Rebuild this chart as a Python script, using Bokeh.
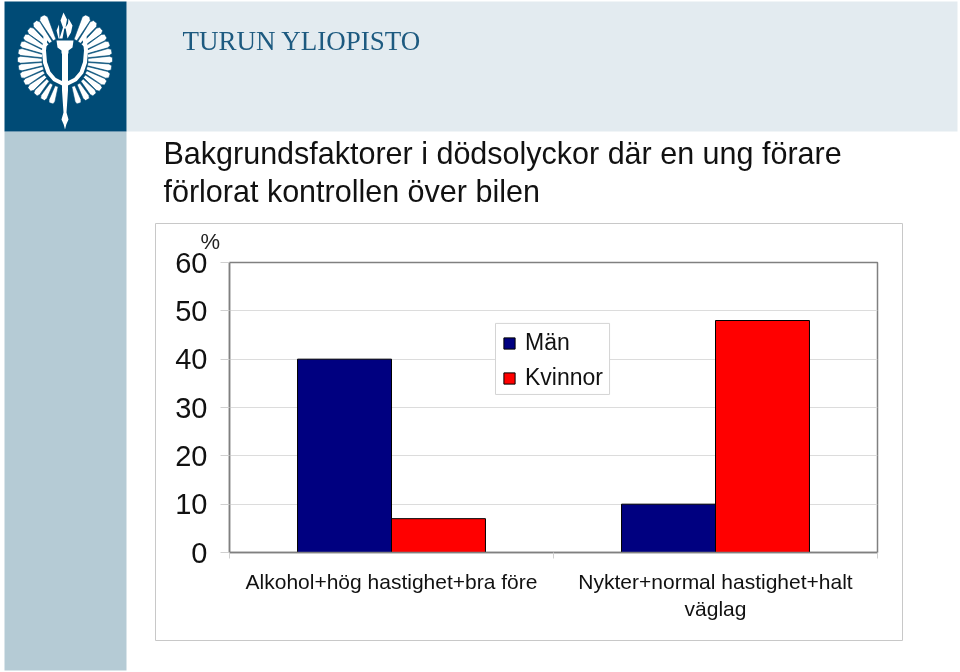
from bokeh.embed import file_html
from bokeh.resources import INLINE
from bokeh.plotting import figure
from bokeh.models import BoxAnnotation, ColumnDataSource, FixedTicker, Legend, LegendItem, Range1d
from bokeh.core.properties import value
import math

categories = ["Alkohol+hög hastighet+bra före", "Nykter+normal hastighet+halt\nväglag"]
man = [40, 10]
kvinnor = [7, 48]
series_names = ["Män", "Kvinnor"]
y_ticks = [0, 10, 20, 30, 40, 50, 60]
title_lines = ["Bakgrundsfaktorer i dödsolyckor där en ung förare", "förlorat kontrollen över bilen"]
brand = "TURUN YLIOPISTO"
unit = "%"

NAVY, RED = "#000080", "#ff0000"
FONT = "Liberation Sans"
LOGO, BAND, SIDE = "#004b76", "#e3ebf0", "#b5cbd5"
FIXED = {"position": "fixed", "left": "0px", "top": "0px"}

# ---------- backdrop: page furniture, drawn in pixel space ----------
bg = figure(width=960, height=672, output_backend="svg", toolbar_location=None,
            x_range=Range1d(0, 960), y_range=Range1d(672, 0), min_border=0,
            x_axis_location=None, y_axis_location=None,
            outline_line_color=None, background_fill_color="white", border_fill_color="white")
bg.grid.visible = False
bg.styles = FIXED

bg.quad(left=[126, 4, 4], right=[957, 126, 126], top=[1, 131, 1], bottom=[131, 670, 131],
        fill_color=[BAND, SIDE, LOGO], line_color=None)
bg.quad(left=[155], right=[902], top=[223], bottom=[640], fill_color="white", line_color="#c8c8c8", line_width=1)

# logo
CX, CY = 64.5, 60
angles = [63, 52, 41, 31, 21, 11, 1, -9, -19, -29, -39, -49, -60, -72]
outer = [50, 49, 48, 47.5, 47.5, 47.5, 47.5, 47, 47, 46.5, 46, 45, 45, 45]
inner = [23, 23, 23, 23, 23, 23, 23, 23, 23, 24, 25, 26, 27, 27]
widths = [4.4, 4.0, 3.8, 3.6, 3.5, 3.5, 3.5, 3.5, 3.5, 3.5, 3.5, 3.3, 3.3, 3.1]
fx, fy = [], []
for a, ro, ri, w1 in zip(angles, outer, inner, widths):
    for s in (-1, 1):
        t = math.radians(a)
        ux, uy = s * math.cos(t), -math.sin(t)
        vx, vy = -uy, ux
        w0 = 1.6
        fx.append([CX + ux * ri + vx * w0, CX + ux * (ro - 3) + vx * w1, CX + ux * ro + vx * 2.2, CX + ux * ro - vx * 2.2,
                   CX + ux * (ro - 3) - vx * w1, CX + ux * ri - vx * w0])
        fy.append([CY + uy * ri + vy * w0, CY + uy * (ro - 3) + vy * w1, CY + uy * ro + vy * 2.2, CY + uy * ro - vy * 2.2,
                   CY + uy * (ro - 3) - vy * w1, CY + uy * ri - vy * w0])
bg.patches(fx, fy, fill_color="white", line_color=LOGO, line_width=0.6)
arc_x = [45, 43.5, 44.5, 48, 54, 62]
arc_y = [36, 50, 62, 72, 79, 83]
bg.multi_line([arc_x, [129 - v for v in arc_x]], [arc_y, arc_y], line_color="white", line_width=4, line_cap="round")
# trident shaft, torch, flame
bg.patches(
    [[61.5, 67.5, 67.5, 66, 68, 65.8, 64.5, 63.2, 61, 63, 61.5],
     [56, 73, 72, 68, 68, 61, 61, 57],
     [59, 62.5, 60, 63, 66.5, 65, 67.5, 68, 72, 70.5, 67, 65.2, 63.8, 62, 58, 56, 58.5]],
    [[50, 50, 90, 112, 119, 124, 129, 124, 119, 112, 90],
     [40, 40, 47, 50, 53, 53, 50, 47],
     [38, 27, 20, 12, 19, 27, 23, 18, 25, 32, 38, 28, 28, 38, 38, 30, 24]],
    fill_color="white", line_color=None)

for lab, x, y, size, col, font in [
    (brand, 182, 40, "27px", "#1d5a80", "Liberation Serif"),
    (title_lines[0], 163, 152.5, "30.5px", "#111111", FONT),
    (title_lines[1], 163, 190, "30.5px", "#111111", FONT),
    (unit, 200, 241, "22px", "#222222", FONT),
]:
    bg.text(x=[x], y=[y], text=[lab], text_font=value(font), text_font_size=value(size), text_color=col,
            text_baseline="middle", text_align="left")

# ---------- the chart itself, transparent, on top ----------
p = figure(width=960, height=672, output_backend="svg", toolbar_location=None,
           x_range=Range1d(0, len(categories)), y_range=Range1d(0, 60),
           min_border_left=229, min_border_right=83, min_border_top=262, min_border_bottom=120,
           background_fill_color=None, border_fill_color=None, outline_line_color="#808080",
           outline_line_width=1.5)
p.styles = FIXED

pos = list(range(len(categories)))
src = ColumnDataSource(dict(x1=[i + 0.355 for i in pos], x2=[i + 0.645 for i in pos], m=man, k=kvinnor))
r1 = p.vbar(x="x1", top="m", width=0.29, source=src, fill_color=NAVY, line_color="black", line_width=1)
r2 = p.vbar(x="x2", top="k", width=0.29, source=src, fill_color=RED, line_color="black", line_width=1)

p.xaxis.ticker = FixedTicker(ticks=[i + 0.5 for i in pos], minor_ticks=pos + [len(pos)])
p.xaxis.major_label_overrides = {i + 0.5: c for i, c in zip(pos, categories)}
p.xaxis.major_tick_line_color = None
p.xaxis.major_tick_in = 0
p.xaxis.major_tick_out = 8
p.xaxis.minor_tick_in = 0
p.xaxis.minor_tick_out = 6
p.xaxis.minor_tick_line_color = "#d0d0d0"
p.xaxis.axis_line_color = "#808080"
p.xaxis.axis_line_width = 1.5
p.xaxis.major_label_standoff = 9
p.xaxis.major_label_text_font = FONT
p.xaxis.major_label_text_font_size = "21px"
p.xaxis.major_label_text_color = "#111111"
p.xaxis.major_label_text_line_height = 1.2

p.yaxis.ticker = FixedTicker(ticks=y_ticks)
p.yaxis.minor_tick_line_color = None
p.yaxis.major_tick_in = 0
p.yaxis.major_tick_out = 9
p.yaxis.major_tick_line_color = "#d0d0d0"
p.yaxis.axis_line_color = "#808080"
p.yaxis.axis_line_width = 1.5
p.yaxis.major_label_standoff = 13
p.yaxis.major_label_text_font = FONT
p.yaxis.major_label_text_font_size = "29px"
p.yaxis.major_label_text_color = "#111111"

p.xgrid.visible = False
p.ygrid.ticker = FixedTicker(ticks=y_ticks)
p.ygrid.grid_line_color = "#dcdcdc"
p.ygrid.grid_line_width = 1

# legend frame behind a frameless legend, so that rows and box can both sit where they do in the picture
p.add_layout(BoxAnnotation(left=0.821, right=1.173, top=47.4, bottom=32.7, fill_color="white", fill_alpha=1,
                           line_color="#d4d4d4", line_alpha=1, line_width=1))
legend = Legend(items=[LegendItem(label=series_names[0], renderers=[r1]),
                       LegendItem(label=series_names[1], renderers=[r2])],
                location=(273, 161), orientation="vertical",
                border_line_color=None, background_fill_alpha=0,
                label_text_font=FONT, label_text_font_size="23px", label_text_color="#111111",
                glyph_width=14, glyph_height=14, padding=9, margin=0, spacing=8, label_standoff=9,
                label_height=24, label_width=77)
p.add_layout(legend, "center")

open("out.html", "w").write(file_html([bg, p], INLINE))
